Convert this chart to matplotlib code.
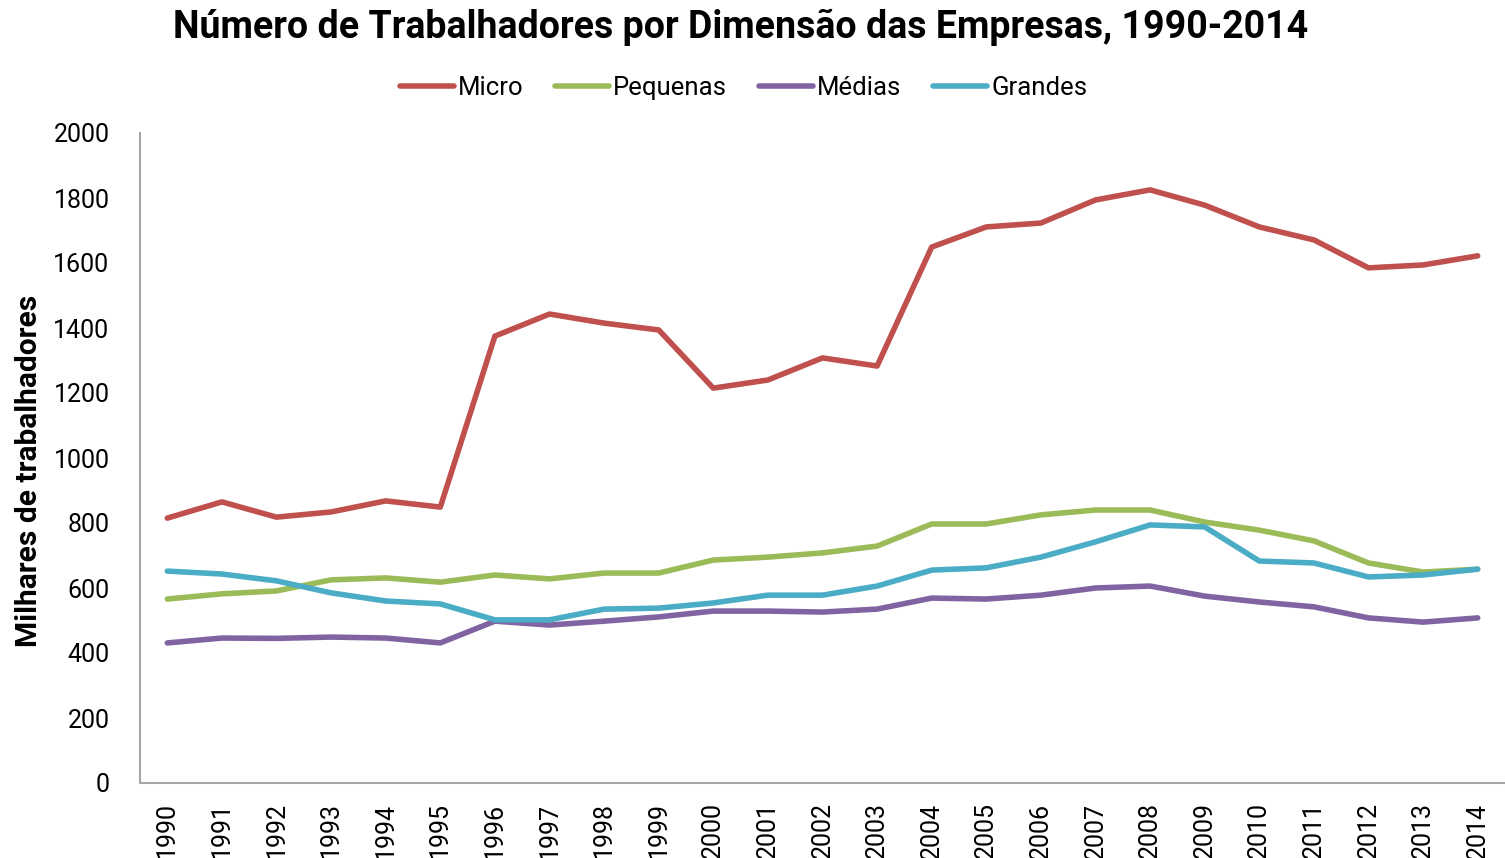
import matplotlib
matplotlib.use("Agg")
from matplotlib import pyplot as plt

plt.rcParams['font.family'] = ['Roboto', 'DejaVu Sans']

anos = list(range(1990, 2015))
micro = [815, 865, 818, 834, 868, 849, 1375, 1443, 1415, 1394, 1215, 1240, 1308,
         1283, 1649, 1711, 1723, 1794, 1825, 1778, 1711, 1671, 1585, 1594, 1622]
pequenas = [566, 582, 591, 625, 631, 618, 640, 628, 646, 646, 686, 695, 708,
            729, 797, 797, 825, 840, 840, 803, 778, 745, 677, 649, 658]
medias = [431, 446, 445, 449, 446, 431, 498, 486, 498, 511, 529, 529, 526,
          535, 569, 566, 578, 600, 606, 575, 557, 542, 508, 495, 508]
grandes = [652, 643, 622, 585, 560, 551, 502, 502, 535, 538, 554, 578, 578,
           606, 655, 662, 695, 742, 794, 788, 683, 677, 634, 640, 658]

series = [('Micro', micro, '#C0504D'),
          ('Pequenas', pequenas, '#9BBB59'),
          ('Médias', medias, '#8064A2'),
          ('Grandes', grandes, '#4BACC6')]

fig = plt.figure(figsize=(15.05, 8.58), dpi=100)
ax = fig.add_axes([140 / 1505, 1 - 783 / 858, 1 - 140 / 1505, 650 / 858])

x = list(range(len(anos)))
for nome, vals, cor in series:
    ax.plot(x, vals, color=cor, linewidth=4.0, label=nome, solid_capstyle='round')

ax.set_xlim(-0.5, len(anos) - 0.5)
ax.set_ylim(0, 2000)
ax.set_yticks(range(0, 2001, 200))
ax.set_xticks(x)
ax.set_xticklabels([str(a) for a in anos], rotation=90)
ax.tick_params(axis='both', length=0, labelsize=18)
ax.tick_params(axis='y', pad=22)
ax.tick_params(axis='x', pad=14)

# eixos
ax.spines['right'].set_color('none')
ax.spines['top'].set_color('none')
ax.spines['left'].set_color('#A6A6A6')
ax.spines['bottom'].set_color('#A6A6A6')
ax.spines['left'].set_linewidth(1.5)
ax.spines['bottom'].set_linewidth(1.5)

ax.set_ylabel('Milhares de trabalhadores', fontsize=21.5, fontweight='bold')
ax.yaxis.set_label_coords(-0.071, 0.48)

fig.suptitle('Número de Trabalhadores por Dimensão das Empresas, 1990-2014',
             x=0.492, y=0.99, fontsize=27, fontweight='bold')

fig.legend(loc='center', bbox_to_anchor=(0.494, 1 - 88 / 858), ncol=4,
           frameon=False, fontsize=18.5, handlelength=2.1, handletextpad=0.15,
           columnspacing=1.25)

fig.savefig('out.png', dpi=100)
